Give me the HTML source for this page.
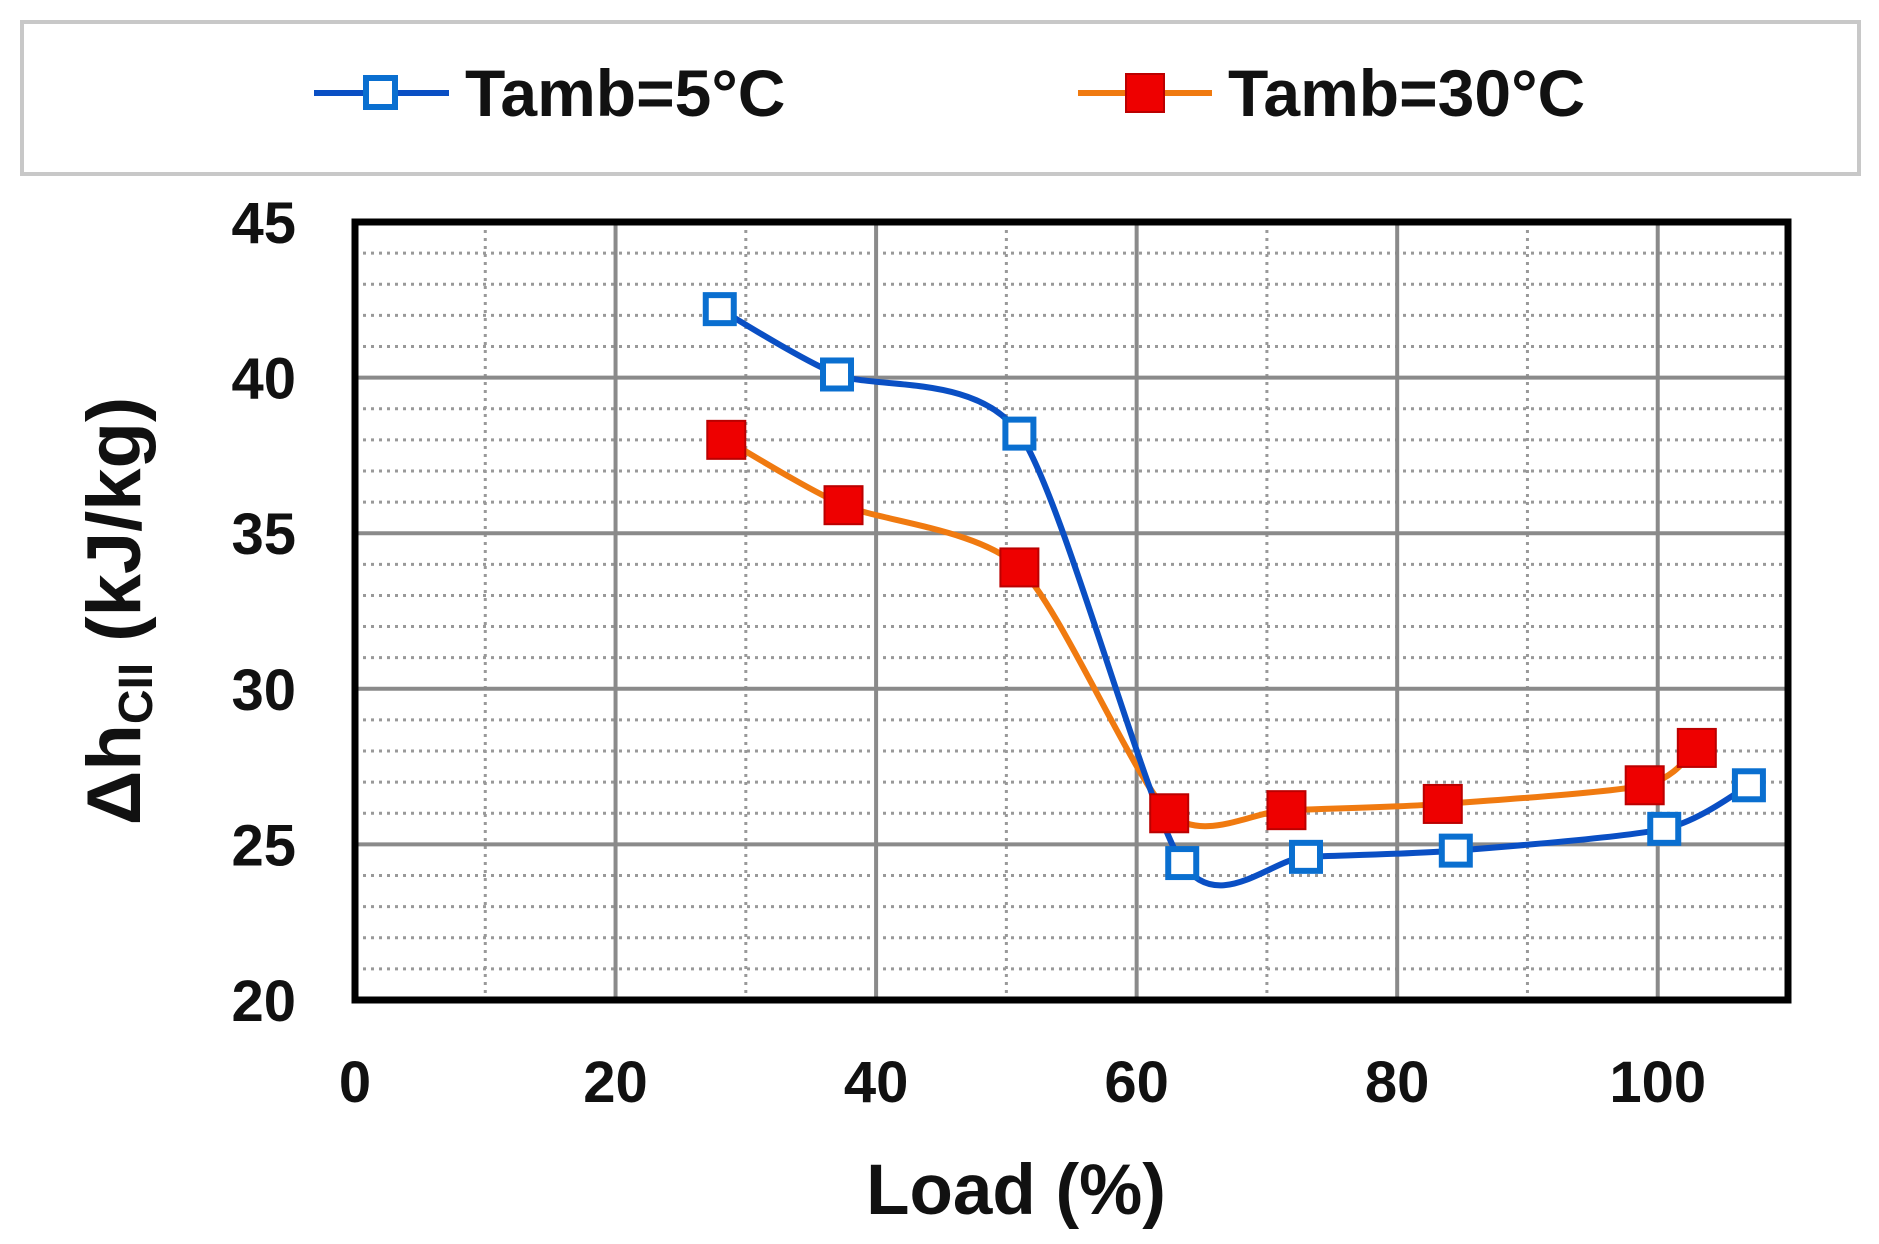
<!DOCTYPE html>
<html><head><meta charset="utf-8"><style>
body{margin:0;background:#fff;}
svg{display:block;font-family:"Liberation Sans",Arial,sans-serif;font-weight:bold;}
</style></head><body>
<svg id="chart" width="1879" height="1244" viewBox="0 0 1879 1244">
<rect x="22" y="22" width="1837" height="152" fill="#fff" stroke="#c8c8c8" stroke-width="4"/>
<g>
<line x1="314" y1="93" x2="449" y2="93" stroke="#0a4fc4" stroke-width="6"/>
<rect x="366" y="78" width="29" height="29" fill="#fff" stroke="#0a6fd0" stroke-width="6"/>
<text x="465" y="116" font-size="66" fill="#111">Tamb=5°C</text>
</g>
<g>
<line x1="1078" y1="93" x2="1212" y2="93" stroke="#f07a10" stroke-width="6"/>
<rect x="1126" y="74" width="38" height="38" fill="#e00" stroke="#b00" stroke-width="2"/>
<text x="1228" y="116" font-size="66" fill="#111">Tamb=30°C</text>
</g>
<g id="grid"></g>
<g id="axes"></g>
<g id="series"></g>
<text x="1016" y="1214" font-size="71" text-anchor="middle" fill="#111">Load (%)</text>
<text transform="translate(140,611) rotate(-90)" font-size="76" text-anchor="middle" fill="#111">Δh<tspan font-size="48" dy="12">CII</tspan><tspan dy="-12"> (kJ/kg)</tspan></text>
</svg>
<script>
const xTicks=[0,20,40,60,80,100];
const yTicks=[20,25,30,35,40,45];
const blueX=[28,37,51,63.5,73,84.5,100.5,107];
const blueY=[42.2,40.1,38.2,24.4,24.6,24.8,25.5,26.9];
const orangeX=[28.5,37.5,51,62.5,71.5,83.5,99,103];
const orangeY=[38,35.9,33.9,26,26.1,26.3,26.9,28.1];
const L=355,R=1788,T=222,B=1000,XMAX=110,YMIN=20,YMAX=45;
const sx=v=>L+(v/XMAX)*(R-L), sy=v=>B-(v-YMIN)/(YMAX-YMIN)*(B-T);
const NS='http://www.w3.org/2000/svg';
function mk(tag,attrs,parent){const e=document.createElementNS(NS,tag);for(const k in attrs)e.setAttribute(k,attrs[k]);parent.appendChild(e);return e;}
const grid=document.getElementById('grid'),axes=document.getElementById('axes'),series=document.getElementById('series');
mk('rect',{x:L,y:T,width:R-L,height:B-T,fill:'#fff'},grid);
for(let v=YMIN+1;v<YMAX;v++){if(v%5===0)continue;const l=mk('line',{x1:L,x2:R,y1:sy(v),y2:sy(v),stroke:'#999','stroke-width':3,'stroke-dasharray':'3 5'},grid);

}
for(let v=10;v<XMAX;v+=20){const l=mk('line',{x1:sx(v),x2:sx(v),y1:T,y2:B,stroke:'#999','stroke-width':3,'stroke-dasharray':'3 5'},grid);

}
yTicks.forEach(v=>{if(v>YMIN&&v<YMAX){const l=mk('line',{x1:L,x2:R,y1:sy(v),y2:sy(v),stroke:'#8a8a8a','stroke-width':4},grid);

}
const t=mk('text',{x:296,y:sy(v)+21,'font-size':58,'text-anchor':'end',fill:'#111'},axes);t.textContent=v;

});
xTicks.forEach(v=>{if(v>0){const l=mk('line',{x1:sx(v),x2:sx(v),y1:T,y2:B,stroke:'#8a8a8a','stroke-width':4},grid);

}
const t=mk('text',{x:sx(v),y:1102,'font-size':58,'text-anchor':'middle',fill:'#111'},axes);t.textContent=v;

});
const fr=mk('rect',{x:L,y:T,width:R-L,height:B-T,fill:'none',stroke:'#000','stroke-width':7},axes);


function path(xs,ys){const p=xs.map((x,i)=>[sx(x),sy(ys[i])]);let d='M'+p[0][0]+','+p[0][1];
for(let i=0;i<p.length-1;i++){const p0=p[i-1]||p[i],p1=p[i],p2=p[i+1],p3=p[i+2]||p2;const k=1/8;
d+=' C'+(p1[0]+(p2[0]-p0[0])*k)+','+(p1[1]+(p2[1]-p0[1])*k)+' '+(p2[0]-(p3[0]-p1[0])*k)+','+(p2[1]-(p3[1]-p1[1])*k)+' '+p2[0]+','+p2[1];}return d;}
const lo=mk('path',{d:path(orangeX,orangeY),fill:'none',stroke:'#f07a10','stroke-width':6},series);


const lb=mk('path',{d:path(blueX,blueY),fill:'none',stroke:'#0a4fc4','stroke-width':6},series);


blueX.forEach((x,i)=>{const m=mk('rect',{x:sx(x)-14,y:sy(blueY[i])-14,width:28,height:28,fill:'#fff',stroke:'#0a6fd0','stroke-width':6},series);

});
orangeX.forEach((x,i)=>{const m=mk('rect',{x:sx(x)-19,y:sy(orangeY[i])-19,width:38,height:38,fill:'#e00',stroke:'#b00','stroke-width':2},series);

});
</script>
</body></html>
